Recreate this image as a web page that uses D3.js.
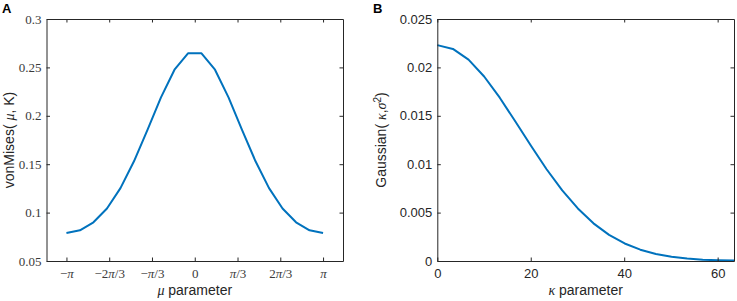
<!DOCTYPE html>
<html>
<head>
<meta charset="utf-8">
<script src="https://cdn.jsdelivr.net/npm/d3@7"></script>
<style>
  body { margin: 0; background: #fff; }
  svg { display: block; }
</style>
</head>
<body>
<div id="container"></div>
<script>
const canvasWidth = 737;
const canvasHeight = 301;

// panel A: von Mises over mu
let muValues = [-3.1416, -2.8109, -2.4802, -2.1495, -1.8188, -1.4881, -1.1574, -0.8267, -0.4960, -0.1653,
  0.1653, 0.4960, 0.8267, 1.1574, 1.4881, 1.8188, 2.1495, 2.4802, 2.8109, 3.1416];
let vmValues = [0.0790, 0.0817, 0.0900, 0.1043, 0.1253, 0.1530, 0.1855, 0.2190, 0.2476, 0.2645,
  0.2645, 0.2476, 0.2190, 0.1855, 0.1530, 0.1253, 0.1043, 0.0900, 0.0817, 0.0790];
let muTicks = [-Math.PI, -2*Math.PI/3, -Math.PI/3, 0, Math.PI/3, 2*Math.PI/3, Math.PI];
let muTickLabels = ['\u2212\u03c0', '\u22122\u03c0/3', '\u2212\u03c0/3', '0', '\u03c0/3', '2\u03c0/3', '\u03c0'];
let vmTicks = [0.05, 0.1, 0.15, 0.2, 0.25, 0.3];
let vmTickLabels = ['0.05', '0.1', '0.15', '0.2', '0.25', '0.3'];

// panel B: Gaussian over kappa
let kappaValues = [0, 3.342, 6.684, 10.026, 13.368, 16.71, 20.05, 23.39, 26.74, 30.08,
  33.42, 36.76, 40.10, 43.45, 46.79, 50.13, 53.47, 56.81, 60.16, 63.5];
let gaussValues = [0.02230, 0.02191, 0.02080, 0.01906, 0.01687, 0.01441, 0.01190, 0.00948, 0.00730, 0.00543,
  0.00389, 0.00270, 0.00181, 0.00117, 0.00073, 0.00044, 0.00026, 0.00014, 0.00008, 0.00004];
let kappaTicks = [0, 20, 40, 60];
let gaussTicks = [0, 0.005, 0.01, 0.015, 0.02, 0.025];
let gaussTickLabels = ['0', '0.005', '0.01', '0.015', '0.02', '0.025'];

let axisColor = '#262626';
let lineColor = '#0072BD';
let serif = '"Liberation Serif", "DejaVu Serif", serif';
let sans = '"Liberation Sans", Arial, sans-serif';

let svg = d3.select('#container')
  .append('svg')
  .attr('width', canvasWidth)
  .attr('height', canvasHeight);

// put greek letters in italic, like LaTeX math
function mathText(sel){
  sel.each(function(){
    let t = d3.select(this);
    let s = t.text();
    t.text('');
    s.split(/([\u03c0\u03bc\u03ba\u03c3])/).forEach(part => {
      if (part === '') return;
      let sp = t.append('tspan').text(part);
      if (/[\u03c0\u03bc\u03ba\u03c3]/.test(part)) sp.style('font-style', 'italic');
    });
  });
}

function drawPanel(opt){
  let g = svg.append('g');
  let x = d3.scaleLinear().domain(opt.xDomain).range([opt.left, opt.right]);
  let y = d3.scaleLinear().domain(opt.yDomain).range([opt.bottom, opt.top]);

  // curve
  let line = d3.line().x(d => x(d[0])).y(d => y(d[1]));
  g.append('path')
    .datum(opt.xs.map((v, i) => [v, opt.ys[i]]))
    .attr('d', line)
    .attr('fill', 'none')
    .attr('stroke', lineColor)
    .attr('stroke-width', 2)
    .attr('stroke-linejoin', 'round');

  // axes with inward ticks, mirrored
  let tickLen = 3.5;
  let bottomAxis = d3.axisBottom(x).tickValues(opt.xTicks).tickSizeInner(-tickLen).tickSizeOuter(0)
    .tickFormat((d, i) => opt.xLabels[i]);
  let topAxis = d3.axisTop(x).tickValues(opt.xTicks).tickSizeInner(-tickLen).tickSizeOuter(0).tickFormat('');
  let leftAxis = d3.axisLeft(y).tickValues(opt.yTicks).tickSizeInner(-tickLen).tickSizeOuter(0)
    .tickFormat((d, i) => opt.yLabels[i]);
  let rightAxis = d3.axisRight(y).tickValues(opt.yTicks).tickSizeInner(-tickLen).tickSizeOuter(0).tickFormat('');

  let gb = g.append('g').attr('transform', 'translate(0,' + opt.bottom + ')').call(bottomAxis);
  let gt = g.append('g').attr('transform', 'translate(0,' + opt.top + ')').call(topAxis);
  let gl = g.append('g').attr('transform', 'translate(' + opt.left + ',0)').call(leftAxis);
  let gr = g.append('g').attr('transform', 'translate(' + opt.right + ',0)').call(rightAxis);

  [gb, gt, gl, gr].forEach(a => {
    a.select('.domain').attr('stroke', axisColor).attr('stroke-width', 1);
    a.selectAll('.tick line').attr('stroke', axisColor).attr('stroke-width', 1);
    a.selectAll('.tick text').attr('fill', opt.tickColor)
      .style('font-family', opt.tickFont).style('font-size', opt.tickSize + 'px');
  });
  gb.selectAll('.tick text').attr('y', 8);
  gl.selectAll('.tick text').attr('x', -5);
  if (opt.mathTicks) gb.selectAll('.tick text').call(mathText);

  // panel letter
  svg.append('text')
    .attr('x', opt.letterX).attr('y', 13)
    .style('font-family', sans).style('font-weight', 'bold').style('font-size', '13px')
    .attr('fill', '#000')
    .text(opt.letter);

  return {g: g, x: x, y: y};
}

// panel A
let pa = drawPanel({
  letter: 'A', letterX: 2,
  left: 46.5, right: 343, top: 19, bottom: 261,
  xDomain: [-3.63, 3.63], yDomain: [0.05, 0.3],
  xs: muValues, ys: vmValues,
  xTicks: muTicks, xLabels: muTickLabels,
  yTicks: vmTicks, yLabels: vmTickLabels,
  tickFont: serif, tickSize: 13, tickColor: '#3a3a3a', mathTicks: true
});

pa.g.append('text')
  .attr('x', (46.5 + 343) / 2).attr('y', 295)
  .attr('text-anchor', 'middle')
  .style('font-family', sans).style('font-size', '14px').attr('fill', axisColor)
  .call(t => {
    t.append('tspan').style('font-family', serif).style('font-style', 'italic').text('\u03bc');
    t.append('tspan').text(' parameter');
  });

pa.g.append('text')
  .attr('transform', 'translate(14,' + (19 + 261) / 2 + ') rotate(-90)')
  .attr('text-anchor', 'middle')
  .style('font-family', sans).style('font-size', '14px').attr('fill', axisColor)
  .call(t => {
    t.append('tspan').text('vonMises(  ');
    t.append('tspan').style('font-family', serif).style('font-style', 'italic').text('\u03bc');
    t.append('tspan').text(', K)');
  });

// panel B
let pb = drawPanel({
  letter: 'B', letterX: 373,
  left: 437.3, right: 734, top: 19, bottom: 261,
  xDomain: [0, 63.5], yDomain: [0, 0.025],
  xs: kappaValues, ys: gaussValues,
  xTicks: kappaTicks, xLabels: kappaTicks.map(String),
  yTicks: gaussTicks, yLabels: gaussTickLabels,
  tickFont: sans, tickSize: 13, tickColor: axisColor, mathTicks: false
});

pb.g.append('text')
  .attr('x', (437.3 + 734) / 2).attr('y', 295)
  .attr('text-anchor', 'middle')
  .style('font-family', sans).style('font-size', '14px').attr('fill', axisColor)
  .call(t => {
    t.append('tspan').style('font-family', serif).style('font-style', 'italic').text('\u03ba');
    t.append('tspan').text(' parameter');
  });

pb.g.append('text')
  .attr('transform', 'translate(386,' + (19 + 261) / 2 + ') rotate(-90)')
  .attr('text-anchor', 'middle')
  .style('font-family', sans).style('font-size', '14px').attr('fill', axisColor)
  .call(t => {
    t.append('tspan').text('Gaussian(  ');
    t.append('tspan').style('font-family', serif).style('font-style', 'italic').text('\u03ba');
    t.append('tspan').text(',');
    t.append('tspan').style('font-family', serif).style('font-style', 'italic').text('\u03c3');
    t.append('tspan').attr('dy', -5).style('font-size', '10px').text('2');
    t.append('tspan').attr('dy', 5).text(')');
  });
</script>
</body>
</html>
